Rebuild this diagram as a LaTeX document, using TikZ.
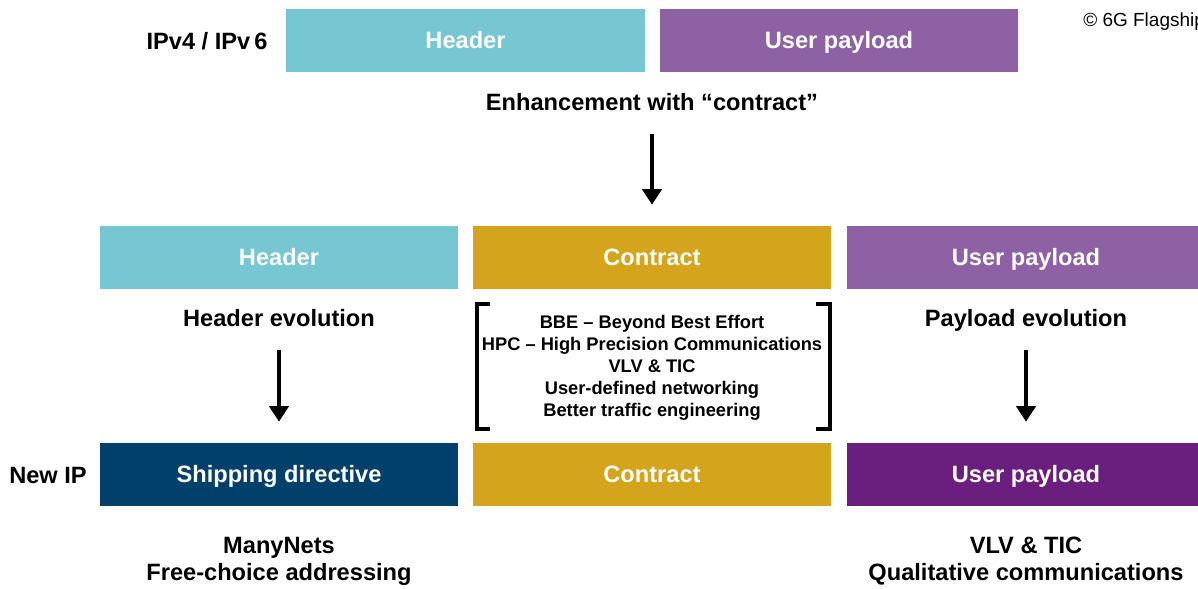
\documentclass[tikz,border=0pt]{standalone}
\usepackage{fontspec}
\setmainfont{Liberation Sans}
\usetikzlibrary{arrows.meta}

\definecolor{hdrteal}{HTML}{76C7D2}
\definecolor{paypurple}{HTML}{8E60A4}
\definecolor{contractgold}{HTML}{D4A41C}
\definecolor{shipblue}{HTML}{00406B}
\definecolor{newpurple}{HTML}{6A1F7F}

\tikzset{
  field/.style={minimum width=8.95cm, minimum height=1.575cm, inner sep=0pt,
    text=white, font=\fontsize{16.8}{18}\selectfont\bfseries,
    text height=16pt, text depth=4pt},
  desc/.style={font=\fontsize{16.8}{19.2}\selectfont\bfseries, align=center, inner sep=0pt},
  oneline/.style={desc, text height=16pt, text depth=4pt},
  downarrow/.style={line width=3.2pt, -{Triangle[length=11pt,width=13.5pt]},
    shorten <=0.45cm, shorten >=0.525cm},
  bracket/.style={line width=2.4pt}
}

\begin{document}
\begin{tikzpicture}[x=0.025cm,y=-0.025cm]
    \useasboundingbox (0,0) rectangle (1198,588);
    \clip (0,0) rectangle (1198,588);

    % IPv4 / IPv6 packet
    \node[oneline] (ipv) at (207,41) {IPv4 / IPv\,6};
    \node[field,fill=hdrteal] (hdr4) at (465.5,40.5) {Header};
    \node[field,fill=paypurple] (pay4) at (839,40.5) {User payload};
    \node[anchor=west,inner sep=0pt,font=\fontsize{13.5}{15}\selectfont] (copy) at (1083,22) {\textcopyright\ 6G Flagship};

    \node[oneline] (enh) at (652,102) {Enhancement with “contract”};

    % Enhanced packet
    \node[field,fill=hdrteal] (hdr) at (279,257.5) {Header};
    \node[field,fill=contractgold] (con) at (652,257.5) {Contract};
    \node[field,fill=paypurple] (pay) at (1026,257.5) {User payload};

    \node[oneline] (hevo) at (279,318) {Header evolution};
    \node[oneline] (pevo) at (1026,318) {Payload evolution};

    % Contract features
    \node[anchor=base,align=center,inner sep=0pt,font=\fontsize{13}{15.6}\selectfont\bfseries] (feat) at (652,416.5)
      {BBE -- Beyond Best Effort\\HPC -- High Precision Communications\\VLV \& TIC\\User-defined networking\\Better traffic engineering};
    \draw[bracket] (490,304) -- (477,304) -- (477,429) -- (490,429);
    \draw[bracket] (816,304) -- (830,304) -- (830,429) -- (816,429);

    % New IP packet
    \node[oneline] (newip) at (48,475) {New IP};
    \node[field,fill=shipblue] (ship) at (279,474.5) {Shipping directive};
    \node[field,fill=contractgold] (con2) at (652,474.5) {Contract};
    \node[field,fill=newpurple] (pay2) at (1026,474.5) {User payload};

    \node[desc,anchor=base] (mnets) at (279,580.5) {ManyNets\\Free-choice addressing};
    \node[desc,anchor=base] (qual) at (1026,580.5) {VLV \& TIC\\Qualitative communications};

    % Arrows
    \draw[downarrow] (enh) -- (con);
    \draw[downarrow] (hevo) -- (ship);
    \draw[downarrow] (pevo) -- (pay2);
\end{tikzpicture}
\end{document}
